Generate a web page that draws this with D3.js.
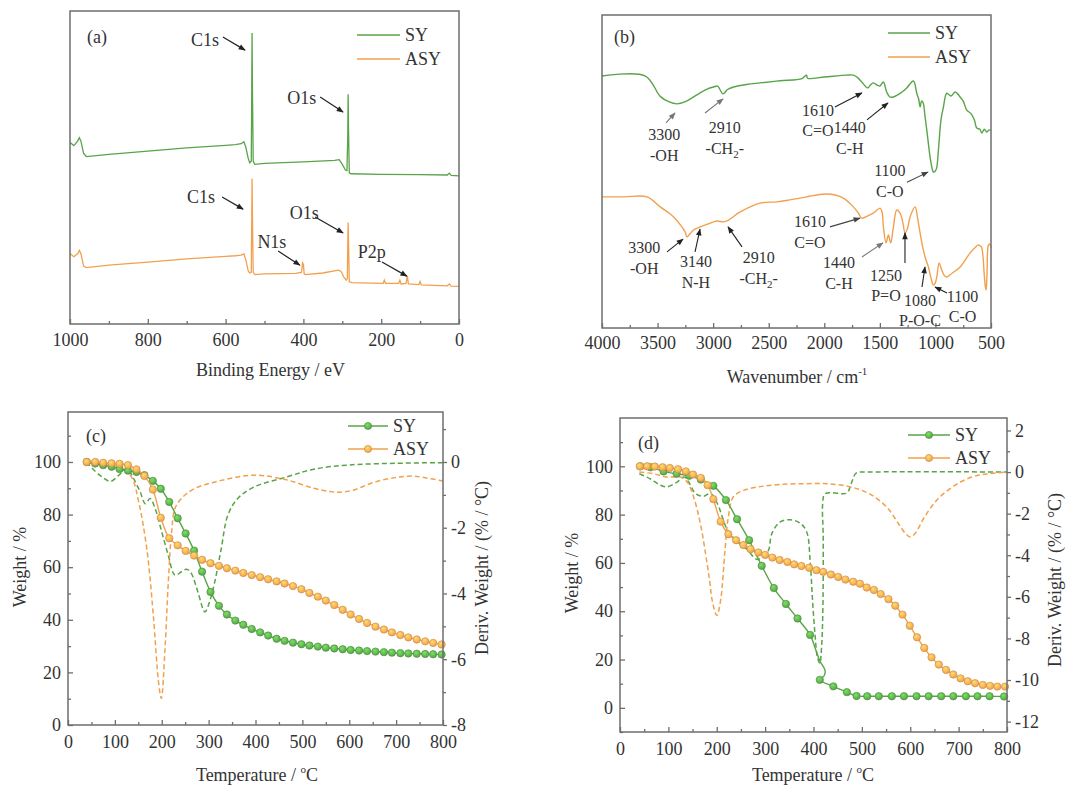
<!DOCTYPE html>
<html>
<head>
<meta charset="utf-8">
<script src="https://cdn.jsdelivr.net/npm/d3@7"></script>
<style>
  body { margin: 0; background: #fff; }
  svg, svg text { font-family: "Liberation Serif", "Times New Roman", Times, "DejaVu Serif", "Noto Serif", serif; }
  svg text { font-size: 18px; fill: #333; }
</style>
</head>
<body>
<svg id="fig" width="1068" height="785" font-family="Liberation Serif, Times New Roman, serif"></svg>
<script>

// ---- (a) XPS survey ----
let xpsSyE  = [1000, 990, 980, 976, 972, 965, 958, 900, 800, 700, 600, 575, 560, 553, 548, 542, 538, 534, 533, 532, 531, 529, 525, 500, 400, 320, 308, 300, 292, 288, 286, 285, 284, 282, 278, 200, 100, 30, 25, 20, 0];
let xpsSyI  = [58, 57, 58.5, 59.5, 58.5, 54.5, 53.5, 54.2, 55.2, 56.3, 57.1, 57.3, 57.6, 58.2, 56.5, 53, 51.5, 52, 70, 93, 75, 52, 51, 51.3, 51.8, 52.3, 52.5, 51, 49.2, 49, 60, 73.4, 62, 48.3, 48, 47.8, 47.7, 47.6, 48.2, 47.5, 47.3];
let xpsAsyE = [1000, 990, 980, 976, 972, 965, 958, 900, 800, 700, 600, 575, 560, 553, 548, 542, 538, 534, 533, 532, 531, 529, 525, 500, 420, 405, 402, 400, 398, 395, 350, 310, 303, 296, 290, 287, 286, 285, 284, 282, 275, 195, 192, 189, 155, 152, 149, 136, 133, 130, 103, 100, 97, 30, 25, 20, 0];
let xpsAsyI = [22.5, 21.5, 22.5, 23.5, 22.5, 18.5, 18, 18.8, 19.8, 20.8, 21.6, 21.8, 22, 22.4, 20.5, 17, 16.3, 16.5, 30, 46.5, 34, 16.5, 15.8, 16, 16.2, 16.5, 19.5, 19, 16, 15.8, 16.3, 17.2, 16.8, 15, 14, 14.5, 25, 32.4, 26, 13.5, 13.2, 13, 14, 13, 13, 14, 12.8, 13, 15.4, 12.8, 12.6, 13.6, 12.5, 12.2, 12.8, 12.1, 12];

// ---- (b) FTIR ----
let irSyW  = [4000, 3610, 3476, 3400, 3326, 3250, 3150, 3050, 2996, 2960, 2912, 2870, 2816, 2700, 2577, 2400, 2200, 2160, 2150, 2000, 1800, 1738, 1700, 1663, 1610, 1580, 1558, 1520, 1500, 1468, 1440, 1410, 1380, 1340, 1300, 1258, 1198, 1168, 1150, 1138, 1125, 1110, 1095, 1078, 1048, 1030, 1018, 1005, 990, 973, 950, 928, 898, 860, 823, 800, 778, 750, 718, 680, 650, 628, 600, 583, 560, 539, 520, 500];
let irSyT  = [80.5, 80.5, 74, 72.3, 71.6, 72.3, 74.4, 76.4, 77, 77.3, 74.8, 76.2, 77, 77.8, 78.3, 79, 79.7, 80.8, 79.8, 80.2, 80.8, 80.8, 80, 78.6, 76.7, 77.8, 78.3, 77.5, 77.3, 78.6, 75.5, 73.8, 73.8, 74.5, 75.4, 76.7, 78.9, 75, 73, 70.6, 72.5, 71.9, 68, 63.3, 54.6, 51, 49.8, 50, 51, 56.9, 66.5, 70.6, 75, 74.1, 75.4, 74.8, 73.8, 72.5, 69.6, 68.5, 66.5, 63.9, 63.5, 62.3, 63.5, 62.6, 63.2, 63.3];
let irAsyW = [4000, 3800, 3596, 3476, 3356, 3281, 3250, 3236, 3210, 3176, 3116, 3050, 2966, 2906, 2861, 2756, 2577, 2427, 2300, 2157, 2100, 1978, 1900, 1828, 1738, 1690, 1663, 1600, 1558, 1498, 1480, 1468, 1444, 1423, 1402, 1378, 1348, 1318, 1295, 1273, 1250, 1228, 1183, 1160, 1138, 1115, 1093, 1063, 1040, 1018, 1000, 988, 967, 955, 943, 920, 898, 850, 778, 688, 640, 613, 590, 583, 570, 562, 550, 544, 535, 523, 510, 500];
let irAsyT = [41.9, 41.9, 41.9, 38.7, 35.5, 32.3, 30.5, 29.1, 30, 31.3, 32.3, 33.2, 34.2, 33.9, 34.5, 37.1, 39.9, 40.3, 41, 41.9, 42.3, 42.8, 42.5, 41.5, 38.7, 36.5, 35.1, 36, 36.7, 38.3, 37, 32.3, 27.2, 29.7, 27.2, 32.3, 37.7, 36.7, 34, 30.4, 32, 35.5, 38.7, 35, 30.4, 26, 22.7, 19.5, 16, 13.7, 14.5, 16.3, 20.8, 19.8, 18.5, 16.8, 16.3, 17.5, 19.5, 24, 25.8, 26.5, 26, 25.6, 22, 17.6, 13, 12.1, 18, 26.5, 26.8, 25.6];

// ---- (c) TGA / DTG ----
let cTemp   = [40, 58, 75, 93, 110, 128, 146, 163, 181, 198, 216, 234, 251, 269, 286, 304, 322, 339, 357, 374, 392, 410, 427, 445, 462, 480, 498, 515, 533, 550, 568, 586, 603, 621, 638, 656, 674, 691, 709, 726, 744, 762, 779, 797];
let cSyW    = [100, 99.4, 98.8, 98.2, 97.3, 96.7, 96.2, 95, 92.8, 89.8, 84.8, 78.6, 72.8, 66.3, 58.3, 50.6, 45.3, 42, 39.7, 38.1, 36.5, 35.2, 34, 32.8, 32, 31.3, 30.7, 30.2, 29.8, 29.4, 29.1, 28.8, 28.5, 28.3, 28.1, 27.9, 27.7, 27.5, 27.3, 27.2, 27.1, 27, 26.9, 26.8];
let cAsyW   = [100, 100, 99.7, 99.5, 99.3, 98.8, 97.2, 94.7, 89.5, 78.8, 71, 68.3, 66.2, 64.4, 62.8, 61.5, 60.5, 59.6, 58.7, 57.8, 57, 56.2, 55.4, 54.6, 53.8, 52.8, 51.6, 50.2, 48.8, 47.3, 45.6, 43.8, 42, 40.3, 38.8, 37.4, 36.3, 35.2, 34.2, 33.3, 32.5, 31.8, 31.2, 30.6];
let cSyDT   = [40, 52, 73, 91, 108, 126, 140, 154, 165, 175, 186, 200, 214, 228, 242, 253, 263, 277, 292, 302, 313, 327, 341, 362, 397, 468, 524, 600, 700, 800];
let cSyD    = [0, -0.2, -0.46, -0.59, -0.41, -0.2, -0.51, -0.91, -1.27, -1.11, -1.42, -2.13, -2.84, -3.44, -3.34, -3.26, -3.39, -3.95, -4.56, -4.25, -3.65, -2.63, -1.62, -1.11, -0.76, -0.45, -0.22, -0.09, -0.04, -0.02];
let cAsyDT  = [40, 70, 100, 115, 137, 151, 168, 182, 193, 199, 207, 214, 221, 228, 242, 270, 327, 397, 468, 524, 560, 580, 610, 652, 700, 734, 762, 800];
let cAsyD   = [-0.02, -0.05, -0.08, -0.1, -0.5, -1.22, -2.63, -4.66, -6.68, -7.19, -5.67, -3.65, -2.13, -1.42, -1.11, -0.81, -0.56, -0.4, -0.55, -0.8, -0.9, -0.92, -0.85, -0.62, -0.47, -0.43, -0.48, -0.58];

// ---- (d) TGA / DTG ----
let dSyT    = [42, 63, 90, 117, 143, 167, 193, 219, 242, 267, 293, 318, 343, 367, 393, 403, 413, 424, 422, 413, 441, 469, 489, 511, 535, 562, 587, 613, 638, 664, 689, 715, 739, 764, 794];
let dSyW    = [100, 99.6, 97.9, 96.9, 96.1, 94.5, 91.9, 86, 78.1, 69.4, 58.8, 49.6, 43, 37, 30.2, 25, 19.5, 15.4, 13.3, 11.6, 8.9, 6.5, 4.9, 4.8, 4.8, 4.8, 4.8, 4.8, 4.8, 4.8, 4.8, 4.8, 4.8, 4.8, 4.7];
let dSyMark = [1, 1, 1, 1, 1, 1, 1, 1, 1, 1, 1, 1, 1, 1, 1, 0, 0, 0, 0, 1, 1, 1, 1, 1, 1, 1, 1, 1, 1, 1, 1, 1, 1, 1, 1];
let dAsyT   = [41, 56, 72, 88, 103, 120, 136, 151, 167, 181, 193, 208, 224, 240, 255, 270, 286, 300, 315, 330, 346, 360, 375, 391, 406, 420, 436, 451, 466, 482, 496, 510, 525, 539, 555, 569, 584, 599, 614, 629, 644, 659, 674, 689, 704, 719, 734, 750, 765, 780, 796];
let dAsyW   = [100, 100, 99.9, 99.6, 99.3, 98.8, 97.9, 96.6, 95.2, 92.2, 86.4, 77.1, 71.9, 69.4, 67.4, 65.7, 64.3, 63.3, 62.2, 61.2, 60.4, 59.4, 58.7, 58, 57, 56.3, 55.2, 54.2, 53.1, 52.2, 51.4, 49.8, 48.8, 47.1, 45, 42.3, 38.6, 34, 29.2, 24.8, 20.9, 17.9, 15.7, 13.8, 12.2, 11, 10.2, 9.5, 9.1, 8.8, 8.8];
let dSyDT   = [40, 62, 83, 97, 118, 132, 142, 156, 173, 187, 201, 222, 242, 263, 283, 298, 307, 314, 331, 352, 372, 386, 393, 398, 403, 408, 413, 417, 419, 420, 420, 419, 424, 469, 475, 482, 488, 520, 800];
let dSyD    = [-0.08, -0.32, -0.63, -0.71, -0.48, -0.24, -0.48, -1.03, -1.16, -1.03, -1.5, -2.78, -3.33, -3.73, -4.2, -4.0, -3.76, -2.95, -2.4, -2.29, -2.45, -2.88, -4.25, -6.17, -7.77, -8.9, -9.2, -8.3, -7.0, -5.37, -3.0, -1.52, -1.04, -1.01, -0.76, -0.3, -0.05, 0, 0];
let dAsyDT  = [40, 69, 97, 125, 139, 152, 166, 180, 186, 190, 200, 208, 217, 224, 234, 255, 290, 330, 380, 430, 470, 499, 526, 554, 575, 590, 600, 610, 630, 658, 693, 727, 762, 800];
let dAsyD   = [0, -0.08, -0.24, -0.24, -0.48, -1.19, -2.46, -4.4, -5.35, -6.1, -6.9, -6.17, -3.76, -2.16, -1.2, -0.88, -0.7, -0.6, -0.56, -0.56, -0.68, -0.87, -1.19, -1.75, -2.46, -2.95, -3.12, -2.95, -2.14, -1.27, -0.63, -0.24, -0.08, 0];

// tick values
let xpsTicks = [1000, 800, 600, 400, 200, 0], xpsMinor = [900, 700, 500, 300, 100];
let irTicks = [4000, 3500, 3000, 2500, 2000, 1500, 1000, 500], irMinor = [3750, 3250, 2750, 2250, 1750, 1250, 750];
let tTicks = [0, 100, 200, 300, 400, 500, 600, 700, 800], tMinor = [50, 150, 250, 350, 450, 550, 650, 750];
let wTicks = [0, 20, 40, 60, 80, 100];
let cWMinor = [10, 30, 50, 70, 90, 110], dWMinor = [-10, 10, 30, 50, 70, 90, 110];
let cDTicks = [0, -2, -4, -6, -8], cDMinor = [1, -1, -3, -5, -7];
let dDTicks = [2, 0, -2, -4, -6, -8, -10, -12], dDMinor = [1, -1, -3, -5, -7, -9, -11];

// annotations (positions in data units of each panel)
let annA = [
    { t: "C1s", x: 653, y: 90.7, from: [607, 91.7], to: [550, 87.5] },
    { t: "O1s", x: 404, y: 72.2, from: [357, 72.5], to: [298, 67.7] },
    { t: "C1s", x: 663, y: 40.6, from: [609, 40.6], to: [555, 36.7] },
    { t: "N1s", x: 481, y: 26.2, from: [465, 23.3], to: [409, 18.8] },
    { t: "O1s", x: 398, y: 35.5, from: [370, 34.2], to: [298, 29.1] },
    { t: "P2p", x: 224, y: 23, from: [198, 19.8], to: [134, 15.3] }
];
let annB = [
    { a: "3300", b: "-OH", x: 3440, y: 61.7, from: [3424, 65.5], to: [3343, 68.7], c: "#777" },
    { a: "2910", b: "-CH_2-", x: 2895, y: 63.9, from: [3073, 68.7], to: [2911, 73.2], c: "#777" },
    { a: "1610", b: "C=O", x: 2057, y: 69.6, from: [1904, 70.6], to: [1661, 75.1], c: "#222" },
    { a: "1440", b: "C-H", x: 1770, y: 63.9, from: [1616, 66.5], to: [1427, 71.9], c: "#222" },
    { a: "1100", b: "C-O", x: 1410, y: 50.2, from: [1256, 46.6], to: [1067, 49.8], c: "#444" },
    { a: "3300", b: "-OH", x: 3620, y: 25.6, from: [3415, 24.3], to: [3271, 28.4], c: "#222" },
    { a: "3140", b: "N-H", x: 3155, y: 21.1, from: [3163, 24.3], to: [3118, 31.6], c: "#222" },
    { a: "2910", b: "-CH_2-", x: 2590, y: 22.4, from: [2740, 25.9], to: [2866, 32.3], c: "#222" },
    { a: "1610", b: "C=O", x: 2129, y: 33.9, from: [1949, 32.3], to: [1679, 35.1], c: "#444" },
    { a: "1440", b: "C-H", x: 1868, y: 20.8, from: [1661, 22.7], to: [1472, 27.2], c: "#777" },
    { a: "1250", b: "P=O", x: 1445, y: 16.9, from: [1274, 20.8], to: [1274, 30.4], c: "#222" },
    { a: "1080", b: "P-O-C", x: 1139, y: 8.9, from: [1121, 13.1], to: [1094, 19.5], c: "#222" },
    { a: "1100", b: "C-O", x: 756, y: 10.2, from: [896, 11.2], to: [1004, 13.1], c: "#222" }
];

const GREEN = "#58a448", ORANGE = "#f2a04e", FRAME = "#6e6e6e", INK = "#333";
const SERIF = '"Liberation Serif", "Times New Roman", Times, "DejaVu Serif", "Noto Serif", serif';

let svg = d3.select("#fig");
let defs = svg.append("defs");

// arrow heads
["#222", "#444", "#777"].forEach((c, i) => {
    defs.append("marker").attr("id", "arr" + i)
        .attr("viewBox", "0 0 10 10").attr("refX", 9).attr("refY", 5)
        .attr("markerWidth", 8).attr("markerHeight", 7).attr("markerUnits", "userSpaceOnUse")
        .attr("orient", "auto")
        .append("path").attr("d", "M0,1 L10,5 L0,9 z").attr("fill", c);
});
const arrowId = c => "url(#arr" + ["#222", "#444", "#777"].indexOf(c) + ")";

// shaded balls for the TGA markers
[["ballG", GREEN], ["ballO", ORANGE]].forEach(([id, c]) => {
    let gr = defs.append("radialGradient").attr("id", id).attr("cx", "40%").attr("cy", "35%").attr("r", "65%");
    gr.append("stop").attr("offset", "0%").attr("stop-color", d3.color(c).brighter(0.9));
    gr.append("stop").attr("offset", "100%").attr("stop-color", c);
});

function zip(xs, ys) { return xs.map((x, i) => [x, ys[i]]); }

function drawFrame(g, box) {
    g.append("rect")
        .attr("x", box.l).attr("y", box.t)
        .attr("width", box.r - box.l).attr("height", box.b - box.t)
        .attr("fill", "none").attr("stroke", FRAME).attr("stroke-width", 1.5);
}

function styleAxis(sel) {
    sel.attr("font-family", SERIF).attr("font-size", null);
    sel.select(".domain").remove();
    sel.selectAll(".tick line").attr("stroke", FRAME).attr("stroke-width", 1.3);
    sel.selectAll(".tick text").attr("fill", INK);
}

function bottomAxis(g, x, box, major, minor, pad) {
    g.append("g").attr("transform", `translate(0,${box.b})`)
        .call(d3.axisBottom(x).tickValues(major).tickSize(-5).tickPadding(pad).tickFormat(d => String(d)))
        .call(styleAxis);
    g.append("g").attr("transform", `translate(0,${box.b})`)
        .call(d3.axisBottom(x).tickValues(minor).tickSize(-3).tickFormat(""))
        .call(styleAxis);
}

function leftAxis(g, y, box, major, minor) {
    g.append("g").attr("transform", `translate(${box.l},0)`)
        .call(d3.axisLeft(y).tickValues(major).tickSize(-5).tickPadding(7).tickFormat(d => String(d)))
        .call(styleAxis);
    g.append("g").attr("transform", `translate(${box.l},0)`)
        .call(d3.axisLeft(y).tickValues(minor).tickSize(-3).tickFormat(""))
        .call(styleAxis);
}

function rightAxis(g, y, box, major, minor) {
    g.append("g").attr("transform", `translate(${box.r},0)`)
        .call(d3.axisRight(y).tickValues(major).tickSize(4).tickPadding(4).tickFormat(d => String(d)))
        .call(styleAxis);
    g.append("g").attr("transform", `translate(${box.r},0)`)
        .call(d3.axisRight(y).tickValues(minor).tickSize(3).tickFormat(""))
        .call(styleAxis);
}

function legend(g, x0, x1, y0, gap, withBall) {
    [["SY", GREEN, "ballG"], ["ASY", ORANGE, "ballO"]].forEach(([name, c, ball], i) => {
        let y = y0 + i * gap;
        g.append("line").attr("x1", x0).attr("x2", x1).attr("y1", y).attr("y2", y)
            .attr("stroke", c).attr("stroke-width", 1.5);
        if (withBall) {
            g.append("circle").attr("cx", (x0 + x1) / 2).attr("cy", y).attr("r", 3.6)
                .attr("fill", `url(#${ball})`).attr("stroke", d3.color(c).darker(0.5)).attr("stroke-width", 0.6);
        }
        g.append("text").attr("x", x1 + 5).attr("y", y).attr("dominant-baseline", "central").text(name);
    });
}

function panelLabel(g, x, y, s) {
    g.append("text").attr("x", x).attr("y", y).attr("dominant-baseline", "central").text(s);
}

// text with an optional "_2" style subscript
function richText(t, s) {
    let parts = s.split(/_(\d)/);
    parts.forEach((p, i) => {
        if (p === "") return;
        let ts = t.append("tspan").text(p);
        if (i % 2 === 1) ts.attr("baseline-shift", "sub").style("font-size", "11px");
    });
}

// ================= (a) =================
let boxA = { l: 70, r: 459, t: 11, b: 324 };
let gA = svg.append("g");
let xA = d3.scaleLinear().domain([1000, 0]).range([boxA.l, boxA.r]);
let yA = d3.scaleLinear().domain([0, 100]).range([boxA.b, boxA.t]);
let lineA = d3.line().x(d => xA(d[0])).y(d => yA(d[1]));

gA.append("path").datum(zip(xpsSyE, xpsSyI)).attr("d", lineA)
    .attr("fill", "none").attr("stroke", GREEN).attr("stroke-width", 1.3);
gA.append("path").datum(zip(xpsAsyE, xpsAsyI)).attr("d", lineA)
    .attr("fill", "none").attr("stroke", ORANGE).attr("stroke-width", 1.3);

drawFrame(gA, boxA);
bottomAxis(gA, xA, boxA, xpsTicks, xpsMinor, 9);

annA.forEach(a => {
    gA.append("text").attr("x", xA(a.x)).attr("y", yA(a.y))
        .attr("text-anchor", "middle").attr("dominant-baseline", "central").text(a.t);
    gA.append("line")
        .attr("x1", xA(a.from[0])).attr("y1", yA(a.from[1]))
        .attr("x2", xA(a.to[0])).attr("y2", yA(a.to[1]))
        .attr("stroke", "#222").attr("stroke-width", 1.2).attr("marker-end", arrowId("#222"));
});

legend(gA, 357, 400, 35, 24, false);
panelLabel(gA, 87, 37, "(a)");
gA.append("text").attr("x", (boxA.l + boxA.r) / 2 + 6).attr("y", 370)
    .attr("text-anchor", "middle").attr("dominant-baseline", "central").text("Binding Energy / eV");

// ================= (b) =================
let boxB = { l: 602, r: 991, t: 15, b: 328 };
let gB = svg.append("g");
let xB = d3.scaleLinear().domain([4000, 500]).range([boxB.l, boxB.r]);
let yB = d3.scaleLinear().domain([0, 100]).range([boxB.b, boxB.t]);
let lineB = d3.line().x(d => xB(d[0])).y(d => yB(d[1])).curve(d3.curveCatmullRom.alpha(0.5));

gB.append("path").datum(zip(irSyW, irSyT)).attr("d", lineB)
    .attr("fill", "none").attr("stroke", GREEN).attr("stroke-width", 1.4);
gB.append("path").datum(zip(irAsyW, irAsyT)).attr("d", lineB)
    .attr("fill", "none").attr("stroke", ORANGE).attr("stroke-width", 1.4);

drawFrame(gB, boxB);
bottomAxis(gB, xB, boxB, irTicks, irMinor, 8);

annB.forEach(a => {
    let cx = xB(a.x), cy = yB(a.y);
    gB.append("text").attr("x", cx).attr("y", cy).style("font-size", "16px")
        .attr("text-anchor", "middle").attr("dominant-baseline", "central").text(a.a);
    let t2 = gB.append("text").attr("x", cx).attr("y", cy + 20).style("font-size", "16px")
        .attr("text-anchor", "middle").attr("dominant-baseline", "central");
    richText(t2, a.b);
    gB.append("line")
        .attr("x1", xB(a.from[0])).attr("y1", yB(a.from[1]))
        .attr("x2", xB(a.to[0])).attr("y2", yB(a.to[1]))
        .attr("stroke", a.c).attr("stroke-width", 1.1).attr("marker-end", arrowId(a.c));
});

legend(gB, 888, 930, 33, 24, false);
panelLabel(gB, 614, 37, "(b)");
let wn = gB.append("text").attr("x", 797).attr("y", 377)
    .attr("text-anchor", "middle").attr("dominant-baseline", "central").text("Wavenumber / cm");
wn.append("tspan").attr("baseline-shift", "super").style("font-size", "11px").text("-1");

// ================= TGA panels =================
function tgaPanel(box, yLdom, yRdom, wMinor, dTicks, dMinor, series, label, legendPos, titles) {
    let g = svg.append("g");
    let x = d3.scaleLinear().domain([0, 800]).range([box.l, box.r]);
    let yL = d3.scaleLinear().domain(yLdom).range([box.b, box.t]);
    let yR = d3.scaleLinear().domain(yRdom).range([box.b, box.t]);
    let lineW = d3.line().x(d => x(d[0])).y(d => yL(d[1])).curve(d3.curveCatmullRom.alpha(0.5));
    let lineD = d3.line().x(d => x(d[0])).y(d => yR(d[1])).curve(d3.curveCatmullRom.alpha(0.5));

    // derivative curves (dashed, right axis)
    series.forEach(s => {
        g.append("path").datum(zip(s.dt, s.d)).attr("d", lineD)
            .attr("fill", "none").attr("stroke", s.color).attr("stroke-width", 1.5)
            .attr("stroke-dasharray", "5,3");
    });
    // weight curves with ball markers
    series.forEach(s => {
        let pts = zip(s.t, s.w);
        g.append("path").datum(pts).attr("d", lineW)
            .attr("fill", "none").attr("stroke", s.color).attr("stroke-width", 1.4);
        g.selectAll(null).data(pts.filter((p, i) => !s.mark || s.mark[i]))
            .enter().append("circle")
            .attr("cx", d => x(d[0])).attr("cy", d => yL(d[1])).attr("r", 3.7)
            .attr("fill", `url(#${s.ball})`)
            .attr("stroke", d3.color(s.color).darker(0.5)).attr("stroke-width", 0.6);
    });

    drawFrame(g, box);
    bottomAxis(g, x, box, tTicks, tMinor, 10);
    leftAxis(g, yL, box, wTicks, wMinor);
    rightAxis(g, yR, box, dTicks, dMinor);

    legend(g, legendPos[0], legendPos[1], legendPos[2], 23, true);
    panelLabel(g, label[1], label[2], label[0]);

    let tt = g.append("text").attr("x", titles.tx).attr("y", 775)
        .attr("text-anchor", "middle").attr("dominant-baseline", "central").text("Temperature / ");
    tt.append("tspan").attr("baseline-shift", "super").style("font-size", "11px").text("o");
    tt.append("tspan").text("C");

    g.append("text").attr("transform", `translate(${titles.lx},${titles.ly}) rotate(-90)`)
        .attr("text-anchor", "middle").attr("dominant-baseline", "central").text("Weight / %");
    g.append("text").attr("transform", `translate(${titles.rx},${titles.ry}) rotate(-90)`)
        .attr("text-anchor", "middle").attr("dominant-baseline", "central").text("Deriv. Weight / (% / °C)");
}

tgaPanel({ l: 68, r: 443, t: 412, b: 725 }, [0, 119], [-8, 1.52], cWMinor, cDTicks, cDMinor,
    [
        { t: cTemp, w: cSyW, dt: cSyDT, d: cSyD, color: GREEN, ball: "ballG" },
        { t: cTemp, w: cAsyW, dt: cAsyDT, d: cAsyD, color: ORANGE, ball: "ballO" }
    ],
    ["(c)", 86, 436], [348, 388, 426],
    { tx: 257, lx: 20, ly: 567, rx: 482, ry: 568 });

tgaPanel({ l: 620, r: 1007, t: 418, b: 732 }, [-10, 120], [-12.5, 2.6], dWMinor, dDTicks, dDMinor,
    [
        { t: dSyT, w: dSyW, mark: dSyMark, dt: dSyDT, d: dSyD, color: GREEN, ball: "ballG" },
        { t: dAsyT, w: dAsyW, dt: dAsyDT, d: dAsyD, color: ORANGE, ball: "ballO" }
    ],
    ["(d)", 638, 443], [908, 950, 435],
    { tx: 813, lx: 572, ly: 573, rx: 1055, ry: 580 });

</script>
</body>
</html>
